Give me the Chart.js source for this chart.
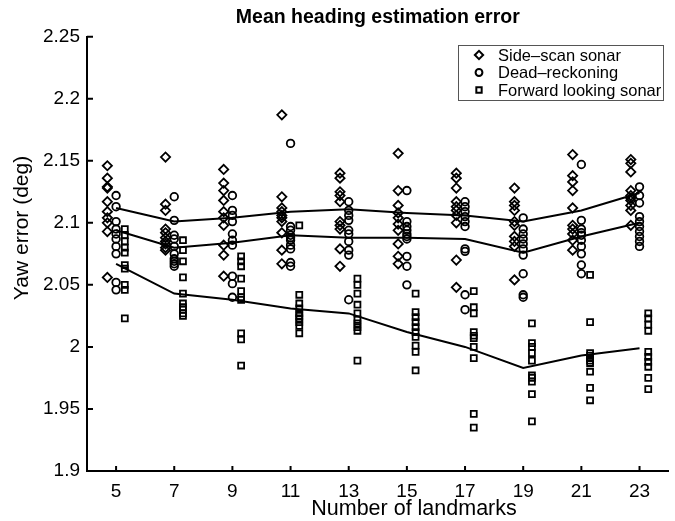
<!DOCTYPE html>
<html>
<head>
<meta charset="utf-8">
<script src="https://cdn.jsdelivr.net/npm/chart.js@4"></script>
<style>
  body { margin: 0; background: #fff; }
  #wrap { width: 675px; height: 521px; }
</style>
</head>
<body>
<div id="wrap"><canvas id="chart"></canvas></div>
<script>
// Number of landmarks (x positions)
const landmarks = [5, 7, 9, 11, 13, 15, 17, 19, 21, 23];

// Individual runs, one row per landmark count
const sideScan = [
  [2.146, 2.136, 2.129, 2.128, 2.117, 2.109, 2.104, 2.100, 2.093, 2.056],
  [2.153, 2.115, 2.110, 2.095, 2.092, 2.088, 2.085, 2.083, 2.080, 2.078],
  [2.143, 2.132, 2.126, 2.118, 2.109, 2.104, 2.098, 2.082, 2.074, 2.057],
  [2.187, 2.121, 2.112, 2.109, 2.106, 2.104, 2.101, 2.092, 2.078, 2.067],
  [2.140, 2.136, 2.125, 2.122, 2.117, 2.101, 2.098, 2.095, 2.079, 2.065],
  [2.156, 2.126, 2.114, 2.108, 2.104, 2.099, 2.094, 2.083, 2.073, 2.067],
  [2.140, 2.136, 2.128, 2.117, 2.113, 2.110, 2.106, 2.100, 2.070, 2.048],
  [2.128, 2.117, 2.114, 2.110, 2.101, 2.098, 2.089, 2.085, 2.081, 2.054],
  [2.155, 2.138, 2.133, 2.126, 2.112, 2.098, 2.095, 2.091, 2.086, 2.078],
  [2.151, 2.148, 2.141, 2.126, 2.122, 2.120, 2.118, 2.114, 2.110, 2.098]
];
const deadReckoning = [
  [2.122, 2.113, 2.101, 2.095, 2.091, 2.087, 2.081, 2.075, 2.052, 2.046],
  [2.121, 2.102, 2.090, 2.087, 2.081, 2.075, 2.071, 2.069, 2.067, 2.065],
  [2.122, 2.110, 2.106, 2.101, 2.091, 2.086, 2.082, 2.057, 2.051, 2.040],
  [2.164, 2.097, 2.094, 2.090, 2.088, 2.086, 2.082, 2.079, 2.068, 2.065],
  [2.117, 2.110, 2.106, 2.102, 2.094, 2.091, 2.085, 2.078, 2.074, 2.038],
  [2.126, 2.101, 2.097, 2.094, 2.091, 2.089, 2.087, 2.073, 2.065, 2.050],
  [2.117, 2.113, 2.109, 2.105, 2.101, 2.097, 2.079, 2.077, 2.042, 2.030],
  [2.104, 2.095, 2.091, 2.087, 2.083, 2.079, 2.074, 2.059, 2.042, 2.040],
  [2.147, 2.102, 2.095, 2.092, 2.090, 2.086, 2.081, 2.075, 2.066, 2.059],
  [2.129, 2.122, 2.116, 2.105, 2.101, 2.097, 2.093, 2.089, 2.085, 2.081]
];
const forwardSonar = [
  [2.095, 2.090, 2.085, 2.080, 2.076, 2.066, 2.063, 2.050, 2.046, 2.023],
  [2.086, 2.078, 2.069, 2.056, 2.043, 2.035, 2.032, 2.030, 2.027, 2.025],
  [2.073, 2.069, 2.065, 2.055, 2.045, 2.040, 2.038, 2.011, 2.006, 1.985],
  [2.098, 2.042, 2.035, 2.031, 2.027, 2.025, 2.023, 2.020, 2.017, 2.011],
  [2.055, 2.050, 2.043, 2.034, 2.027, 2.022, 2.019, 2.016, 2.013, 1.989],
  [2.043, 2.028, 2.024, 2.020, 2.016, 2.012, 2.008, 2.001, 1.996, 1.981],
  [2.045, 2.032, 2.027, 2.012, 2.009, 2.007, 2.000, 1.991, 1.946, 1.935],
  [2.019, 2.003, 2.000, 1.995, 1.989, 1.977, 1.975, 1.972, 1.962, 1.940],
  [2.058, 2.020, 1.995, 1.993, 1.991, 1.989, 1.987, 1.980, 1.967, 1.957],
  [2.027, 2.023, 2.018, 2.013, 1.996, 1.992, 1.988, 1.984, 1.975, 1.966]
];

// Mean lines
const sideScanMean = [2.112, 2.101, 2.104, 2.109, 2.111, 2.108, 2.106, 2.101, 2.110, 2.124];
const deadReckoningMean = [2.094, 2.080, 2.084, 2.090, 2.088, 2.088, 2.087, 2.076, 2.089, 2.100];
const forwardMean = [2.067, 2.043, 2.038, 2.031, 2.027, 2.012, 2.000, 1.983, 1.993, 1.999];

const yTicks = [1.9, 1.95, 2, 2.05, 2.1, 2.15, 2.2, 2.25];

const titleText = 'Mean heading estimation error';
const xTitle = 'Number of landmarks';
const yTitle = 'Yaw error (deg)';

// horizontal shift of each marker column around the landmark count
const shiftSide = -0.3, shiftDead = 0, shiftForward = 0.3;

function cloud(rows, shift) {
  let pts = [];
  rows.forEach((row, i) => {
    row.forEach(v => pts.push({ x: landmarks[i] + shift, y: v }));
  });
  return pts;
}
function meanLine(vals) {
  return vals.map((v, i) => ({ x: landmarks[i], y: v }));
}

const FONT = "'Liberation Sans', Arial, Helvetica, sans-serif";

const markerStyle = {
  type: 'scatter',
  borderColor: '#000',
  backgroundColor: 'rgba(0,0,0,0)',
  borderWidth: 1.8,
  showLine: false
};
const lineStyle = {
  type: 'line',
  borderColor: '#000',
  borderWidth: 2,
  pointRadius: 0,
  fill: false,
  tension: 0
};

// Inward tick marks, titles and legend box like the original figure
const axesExtras = {
  id: 'axesExtras',
  afterDraw(chart) {
    const ctx = chart.ctx;
    const xs = chart.scales.x, ys = chart.scales.y;
    const area = chart.chartArea;
    ctx.save();
    ctx.strokeStyle = '#000';
    ctx.lineWidth = 2;
    ctx.beginPath();
    yTicks.forEach(t => {
      const py = ys.getPixelForValue(t);
      ctx.moveTo(area.left, py);
      ctx.lineTo(area.left + 6, py);
    });
    landmarks.forEach(t => {
      const px = xs.getPixelForValue(t);
      ctx.moveTo(px, area.bottom);
      ctx.lineTo(px, area.bottom - 5);
    });
    ctx.stroke();

    // titles
    ctx.fillStyle = '#000';
    ctx.textAlign = 'center';
    ctx.textBaseline = 'middle';
    ctx.font = 'bold 19.5px ' + FONT;
    ctx.fillText(titleText, (area.left + area.right) / 2, 18);
    ctx.font = '21.5px ' + FONT;
    ctx.fillText(xTitle, 414, 509);
    ctx.save();
    ctx.translate(22, 228);
    ctx.rotate(-Math.PI / 2);
    ctx.font = '21px ' + FONT;
    ctx.fillText(yTitle, 0, 0);
    ctx.restore();

    // legend
    const bx = 458.5, by = 45.5, bw = 205, bh = 55;
    ctx.fillStyle = '#fff';
    ctx.fillRect(bx, by, bw, bh);
    ctx.lineWidth = 1;
    ctx.strokeStyle = '#555';
    ctx.strokeRect(bx, by, bw, bh);
    const rowsY = [55, 72.5, 90];
    [0, 1, 2].forEach(i => {
      const ds = chart.data.datasets[i];
      ctx.strokeStyle = '#000';
      ctx.fillStyle = 'rgba(0,0,0,0)';
      ctx.lineWidth = 2;
      Chart.helpers.drawPoint(ctx, {
        pointStyle: ds.pointStyle, radius: ds.pointRadius * 0.9, borderWidth: 2
      }, 479, rowsY[i]);
      ctx.fillStyle = '#000';
      ctx.font = '16.5px ' + FONT;
      ctx.textBaseline = 'middle';
      ctx.textAlign = 'left';
      ctx.fillText(ds.label, 498, rowsY[i] + 1);
    });
    ctx.restore();
  }
};

new Chart(document.getElementById('chart'), {
  data: {
    datasets: [
      { ...markerStyle, label: 'Side–scan sonar', data: cloud(sideScan, shiftSide), pointStyle: 'rectRot', pointRadius: 4.6 },
      { ...markerStyle, label: 'Dead–reckoning', data: cloud(deadReckoning, shiftDead), pointStyle: 'circle', pointRadius: 3.8 },
      { ...markerStyle, label: 'Forward looking sonar', data: cloud(forwardSonar, shiftForward), pointStyle: 'rect', pointRadius: 4.2 },
      { ...lineStyle, label: 'side mean', data: meanLine(sideScanMean) },
      { ...lineStyle, label: 'dead mean', data: meanLine(deadReckoningMean) },
      { ...lineStyle, label: 'forward mean', data: meanLine(forwardMean) }
    ]
  },
  options: {
    responsive: true,
    maintainAspectRatio: false,
    animation: false,
    layout: { padding: { left: 0, right: 3, top: 36.7, bottom: 0 } },
    plugins: {
      legend: { display: false },
      tooltip: { enabled: false },
      title: { display: false }
    },
    scales: {
      x: {
        type: 'linear',
        min: 4,
        max: 24,
        grid: { display: false, drawTicks: false },
        border: { display: true, color: '#000', width: 2 },
        afterBuildTicks: s => { s.ticks = landmarks.map(v => ({ value: v })); },
        afterFit: s => { s.height = 50; },
        ticks: { color: '#000', padding: 9, font: { family: FONT, size: 19 }, maxRotation: 0 }
      },
      y: {
        type: 'linear',
        min: 1.9,
        max: 2.25,
        grid: { display: false, drawTicks: false },
        border: { display: true, color: '#000', width: 2 },
        afterBuildTicks: s => { s.ticks = yTicks.map(v => ({ value: v })); },
        afterFit: s => { s.width = 87; },
        ticks: {
          color: '#000',
          padding: 7,
          font: { family: FONT, size: 19 },
          callback: v => String(+v.toFixed(2))
        }
      }
    }
  },
  plugins: [axesExtras]
});
</script>
</body>
</html>
